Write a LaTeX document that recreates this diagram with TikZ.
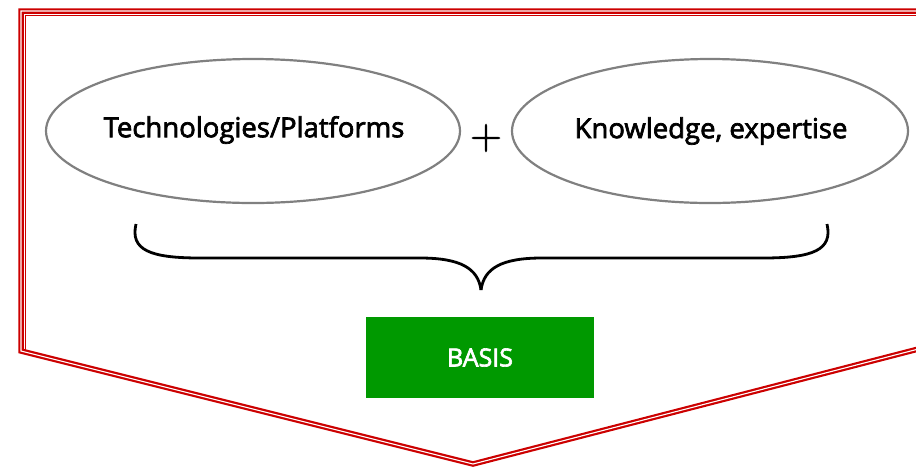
\documentclass[tikz,border=0pt]{standalone}
\usepackage{fontspec}
\setmainfont{Open Sans}
\newfontfamily\lblfont{Open Sans}[UprightFeatures={FakeBold=2.5}]
\newfontfamily\plusfont{Latin Modern Roman}[UprightFeatures={FakeBold=1.5}]
\usetikzlibrary{shapes.geometric}
\definecolor{framered}{RGB}{204,0,0}
\definecolor{basisgreen}{RGB}{0,153,0}
\definecolor{ellgray}{RGB}{128,128,128}
\begin{document}
\begin{tikzpicture}[x=1pt,y=-1pt,
  frameline/.style={draw=framered,line width=2.2pt,double=white,double distance=1.1pt,line join=miter},
  ell/.style={ellipse,draw=ellgray,line width=2.2pt,fill=white,inner sep=0pt},
  lbl/.style={font=\lblfont\fontsize{27.5}{30}\selectfont,text=black},
  basisbox/.style={fill=basisgreen,minimum width=228pt,minimum height=81pt,text=white,font=\lblfont\fontsize{25}{28}\selectfont},
  bracestyle/.style={draw=black,line width=2.8pt}]
\useasboundingbox (0,0) rectangle (916,467);
% frame
\coordinate (tl) at (21,11);
\coordinate (tr) at (930,11);
\coordinate (br) at (930,346);
\coordinate (bl) at (21,351);
\coordinate (ap) at (473,464);
\draw[frameline] (br) -- (ap) -- (bl) -- (tl) -- (tr);
\draw[framered,line width=0.6pt] (24.8,350) -- (24.8,14.8) -- (930,14.8);
% ellipses
\node[ell,minimum width=414pt,minimum height=144pt] (e1) at (253,131) {};
\node[lbl] (t1) at (254,130) {Technologies/Platforms};
\node[ell,minimum width=396pt,minimum height=144pt] (e2) at (710,131) {};
\node[lbl] (t2) at (711,131) {Knowledge, expertise};
\node[font=\plusfont\fontsize{44}{44}\selectfont] (plus) at (486,138) {+};
% brace
\coordinate (b1) at (136,224);
\coordinate (b2) at (827,224);
\coordinate (bp) at (481,290);
\draw[bracestyle] (b1) .. controls (130,250) and (150,258) .. (200,258)
  -- (420,258) .. controls (460,258) and (478,268) .. (bp);
\draw[bracestyle] (b2) .. controls (833,250) and (813,258) .. (763,258)
  -- (542,258) .. controls (502,258) and (484,268) .. (bp);
% basis
\node[basisbox] (basis) at (480,357.5) {BASIS};
\end{tikzpicture}
\end{document}
